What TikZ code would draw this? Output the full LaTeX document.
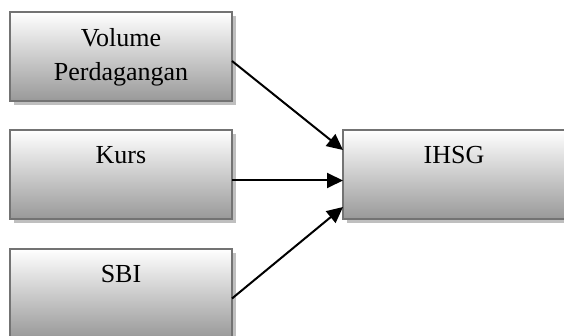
\documentclass[tikz,border=0pt]{standalone}
\usepackage{fontspec}
\setmainfont{Liberation Serif}
\usepackage{xcolor}
\usepackage{tikz}
\usetikzlibrary{arrows.meta,positioning,shadows,calc}

\begin{document}
\begin{tikzpicture}[
  >={Triangle[length=8pt,width=7.5pt]},
  node distance=14.5pt and 55.5pt,
  varbox/.style={rectangle, draw=black!55, line width=1pt, top color=white, bottom color=black!40,
    drop shadow={shadow xshift=2pt, shadow yshift=-2pt, fill=black!25, opacity=1},
    minimum width=111pt, minimum height=44.5pt, inner sep=0pt, outer sep=0pt, align=center,
    text height=9pt, text depth=19.5pt, font=\fontsize{13}{17}\selectfont},
  line/.style={->, line width=1pt}
]
\useasboundingbox (0,0) rectangle (282pt,-168pt);

% Variabel bebas (kiri)
\node[varbox, text height=26pt, text depth=1.5pt] (vol) at (60.5pt,-28.25pt) {Volume\\Perdagangan};
\node[varbox, below=of vol] (kurs) {Kurs};
\node[varbox, below=15pt of kurs] (sbi) {SBI};

% Variabel terikat
\node[varbox, right=of kurs] (ihsg) {IHSG};

% Panah
\draw[line] ($(vol.east)+(0,-2.25pt)$) -- ($(ihsg.west)+(0,12.25pt)$);
\draw[line] ($(kurs.east)+(0,-3pt)$) -- ($(ihsg.west)+(0,-3pt)$);
\draw[line] ($(sbi.east)+(0,-2.5pt)$) -- ($(ihsg.west)+(0,-16.25pt)$);
\end{tikzpicture}
\end{document}
